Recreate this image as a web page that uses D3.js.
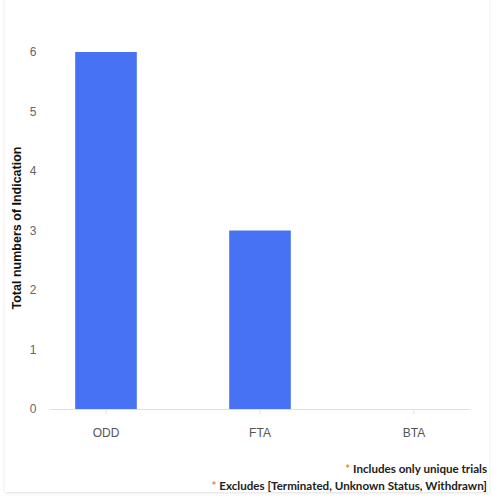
<!DOCTYPE html>
<html><head><meta charset="utf-8">
<script src="https://cdn.jsdelivr.net/npm/d3@7"></script>
<style>
html,body{margin:0;padding:0;background:#fff;}
svg{display:block;}
</style></head>
<body>
<svg id="chart" width="500" height="500"></svg>
<script>
const categories = ["ODD", "FTA", "BTA"];
const values = [6, 3, 0];
const yTicks = [0, 1, 2, 3, 4, 5, 6];
const yTitle = "Total numbers of Indication";
const notes = ["Includes only unique trials", "Excludes [Terminated, Unknown Status, Withdrawn]"];

const svg = d3.select("#chart");
const defs = svg.append("defs");
const f = defs.append("filter").attr("id","sh").attr("x","-5%").attr("y","-5%").attr("width","110%").attr("height","110%");
f.append("feDropShadow").attr("dx",0).attr("dy",1).attr("stdDeviation",1.5).attr("flood-color","#000").attr("flood-opacity",0.12);

svg.append("rect").attr("x",5).attr("y",-10).attr("width",484).attr("height",502)
  .attr("fill","#fff").attr("filter","url(#sh)");

const x = d3.scaleBand().domain(categories).range([29, 491]).paddingInner(0.6).paddingOuter(0.3);
const y = d3.scaleLinear().domain([0, 6]).range([409, 52]);
const sans = "'Liberation Sans', Arial, sans-serif";

// y tick labels
svg.append("g").selectAll("text").data(yTicks).join("text")
  .attr("x", 33).attr("y", d => y(d)).attr("dy", "0.35em")
  .attr("text-anchor", "middle")
  .style("font-family", sans).attr("font-size", 12)
  .attr("fill", "#666").text(d => d);

// bars
svg.append("g").selectAll("rect").data(values).join("rect")
  .attr("x", (d,i) => x(categories[i]))
  .attr("y", d => y(d))
  .attr("width", x.bandwidth())
  .attr("height", d => y(0) - y(d))
  .attr("fill", "#4672f3");

// baseline
svg.append("line").attr("x1", 50).attr("x2", 470).attr("y1", y(0)+0.5).attr("y2", y(0)+0.5)
  .attr("stroke", "#e0e0e0").attr("stroke-width", 1);

// x ticks and labels
const xg = svg.append("g");
xg.selectAll("line").data(categories).join("line")
  .attr("x1", d => x(d) + x.bandwidth()/2).attr("x2", d => x(d) + x.bandwidth()/2)
  .attr("y1", y(0)+1).attr("y2", y(0)+5).attr("stroke", "#e0e0e0");
xg.selectAll("text").data(categories).join("text")
  .attr("x", d => x(d) + x.bandwidth()/2).attr("y", 437)
  .attr("text-anchor", "middle")
  .style("font-family", sans).attr("font-size", 12)
  .attr("fill", "#555").text(d => d);

// y title
svg.append("text").attr("transform", "translate(21,228) rotate(-90)")
  .attr("text-anchor", "middle")
  .style("font-family", sans).attr("font-size", 12.5)
  .attr("font-weight", "bold").attr("fill", "#111").text(yTitle);

// footnotes
const fn = svg.append("g");
notes.forEach((n, i) => {
  const t = fn.append("text").attr("x", 487).attr("y", 473 + i*17)
    .attr("text-anchor", "end")
    .style("font-family", "Lato, sans-serif").attr("font-size", 11.6)
    .attr("font-weight", "bold").attr("fill", "#222");
  t.append("tspan").attr("fill", "#f08a24").text("* ");
  t.append("tspan").text(n);
});
</script>
</body></html>
